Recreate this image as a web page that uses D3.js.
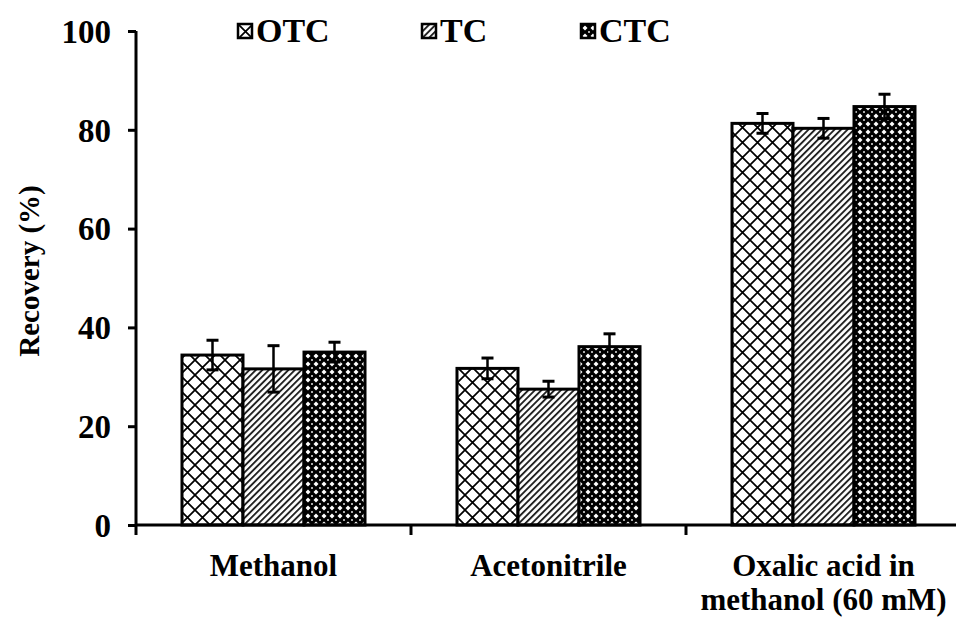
<!DOCTYPE html>
<html>
<head>
<meta charset="utf-8">
<script src="https://cdn.jsdelivr.net/npm/d3@7"></script>
<style>
  html, body { margin: 0; padding: 0; background: #fff; }
  svg { display: block; }
  text { font-family: "Liberation Serif", "Times New Roman", serif; font-weight: bold; fill: #000; }
</style>
</head>
<body>
<script>
// Recovery of tetracyclines with different extraction solvents
const categories = ["Methanol", "Acetonitrile", "Oxalic acid in methanol (60 mM)"];
const categoryLines = [["Methanol"], ["Acetonitrile"], ["Oxalic acid in", "methanol (60 mM)"]];
const seriesNames = ["OTC", "TC", "CTC"];
const otcValues = [34.4, 31.7, 81.3];
const otcErrors = [3.0, 2.1, 2.0];
const tcValues = [31.6, 27.5, 80.3];
const tcErrors = [4.7, 1.6, 2.0];
const ctcValues = [35.0, 36.1, 84.7];
const ctcErrors = [2.0, 2.6, 2.5];
const yTicks = [0, 20, 40, 60, 80, 100];

const W = 956, H = 617;
const plotLeft = 136, plotBottom = 525, plotTop = 31;

const svg = d3.select("body").append("svg").attr("width", W).attr("height", H);
const defs = svg.append("defs");

// Hatch fills for the three series
const pOTC = defs.append("pattern").attr("id", "fill-OTC")
  .attr("patternUnits", "userSpaceOnUse").attr("width", 15).attr("height", 15);
pOTC.append("rect").attr("width", 15).attr("height", 15).attr("fill", "#fff");
pOTC.append("path").attr("d", "M0,0L15,15M15,0L0,15M-1,14L1,16M14,-1L16,1")
  .attr("stroke", "#000").attr("stroke-width", 1.7);

const pTC = defs.append("pattern").attr("id", "fill-TC")
  .attr("patternUnits", "userSpaceOnUse").attr("width", 4.6).attr("height", 10)
  .attr("patternTransform", "rotate(45)");
pTC.append("rect").attr("width", 4.6).attr("height", 10).attr("fill", "#fff");
pTC.append("rect").attr("width", 1.9).attr("height", 10).attr("fill", "#222");

const pCTC = defs.append("pattern").attr("id", "fill-CTC")
  .attr("patternUnits", "userSpaceOnUse").attr("width", 8).attr("height", 8);
pCTC.append("rect").attr("width", 8).attr("height", 8).attr("fill", "#000");
pCTC.append("path").attr("d", "M4,1.5L6.5,4L4,6.5L1.5,4Z").attr("fill", "#fff");
[[-1, -1], [7, -1], [-1, 7], [7, 7]].forEach(([px, py]) =>
  pCTC.append("rect").attr("x", px).attr("y", py).attr("width", 2).attr("height", 2).attr("fill", "#aaa"));

// Scales
const x = d3.scaleBand().domain(categories).range([plotLeft, plotLeft + 825]).paddingInner(0).paddingOuter(0);
const xs = d3.scaleBand().domain(seriesNames).range([0, x.bandwidth()]).paddingInner(0).paddingOuter(0.754);
const y = d3.scaleLinear().domain([0, 100]).range([plotBottom, plotTop]);

const seriesData = [
  { name: "OTC", values: otcValues, errors: otcErrors },
  { name: "TC", values: tcValues, errors: tcErrors },
  { name: "CTC", values: ctcValues, errors: ctcErrors }
];

// Bars
const groups = svg.append("g").selectAll("g").data(seriesData).join("g");
groups.selectAll("rect").data(s => s.values.map((v, i) => ({ s: s.name, cat: categories[i], v, e: s.errors[i] })))
  .join("rect")
  .attr("x", d => x(d.cat) + xs(d.s))
  .attr("y", d => y(d.v))
  .attr("width", xs.bandwidth())
  .attr("height", d => y(0) - y(d.v))
  .attr("fill", d => `url(#fill-${d.s})`)
  .attr("stroke", "#000").attr("stroke-width", 3);

// Error bars
const errs = svg.append("g");
seriesData.forEach(s => {
  s.values.forEach((v, i) => {
    const cx = x(categories[i]) + xs(s.name) + xs.bandwidth() / 2;
    const hi = y(v + s.errors[i]), lo = y(v - s.errors[i]);
    errs.append("line").attr("x1", cx).attr("x2", cx).attr("y1", hi).attr("y2", lo)
      .attr("stroke", "#000").attr("stroke-width", 2.5);
    [hi, lo].forEach(yy => errs.append("line").attr("x1", cx - 6).attr("x2", cx + 6)
      .attr("y1", yy).attr("y2", yy).attr("stroke", "#000").attr("stroke-width", 3));
  });
});

// Y axis
const yAxis = svg.append("g").attr("transform", `translate(${plotLeft},0)`)
  .call(d3.axisLeft(y).tickValues(yTicks).tickSize(8).tickPadding(17).tickFormat(d3.format("d")));
yAxis.select(".domain").remove();
yAxis.append("line").attr("x1", 0).attr("x2", 0).attr("y1", plotTop).attr("y2", plotBottom + 10)
  .attr("stroke", "#000").attr("stroke-width", 3);
yAxis.selectAll(".tick line").attr("stroke", "#000").attr("stroke-width", 3);
yAxis.selectAll(".tick text").attr("font-size", 33).attr("font-family", "Liberation Serif")
  .attr("font-weight", "bold").attr("dy", "0.34em");

// X axis
const xAxis = svg.append("g").attr("transform", `translate(0,${plotBottom})`);
xAxis.append("line").attr("x1", plotLeft).attr("x2", plotLeft + 825).attr("y1", 0).attr("y2", 0)
  .attr("stroke", "#000").attr("stroke-width", 3);
categories.forEach((c, i) => {
  if (i > 0) {
    xAxis.append("line").attr("x1", x(c)).attr("x2", x(c)).attr("y1", 0).attr("y2", 10)
      .attr("stroke", "#000").attr("stroke-width", 3);
  }
  const cx = x(c) + x.bandwidth() / 2;
  const t = xAxis.append("text").attr("text-anchor", "middle").attr("font-size", 31)
    .attr("x", cx).attr("y", 51);
  categoryLines[i].forEach((ln, k) => {
    const span = t.append("tspan").attr("x", cx).attr("dy", k === 0 ? 0 : 34).text(ln);
    // keep the lower line inside the right edge of the chart
    const w = span.node().getComputedTextLength();
    if (cx + w / 2 > W - 8) span.attr("x", W - 8 - w / 2);
  });
});

// Y axis title
svg.append("text").attr("transform", `translate(39,${(plotTop + plotBottom) / 2 - 7}) rotate(-90)`)
  .attr("text-anchor", "middle").attr("font-size", 29).text("Recovery (%)");

// Legend
const legendX = [238, 422, 581];
const legend = svg.append("g").selectAll("g").data(seriesNames).join("g")
  .attr("transform", (d, i) => `translate(${legendX[i]},24)`);
legend.append("rect").attr("width", 14).attr("height", 14)
  .attr("fill", d => `url(#fill-${d})`).attr("stroke", "#000").attr("stroke-width", 2.5);
legend.append("text").attr("x", 18).attr("y", 18).attr("font-size", 34).text(d => d);
</script>
</body>
</html>
